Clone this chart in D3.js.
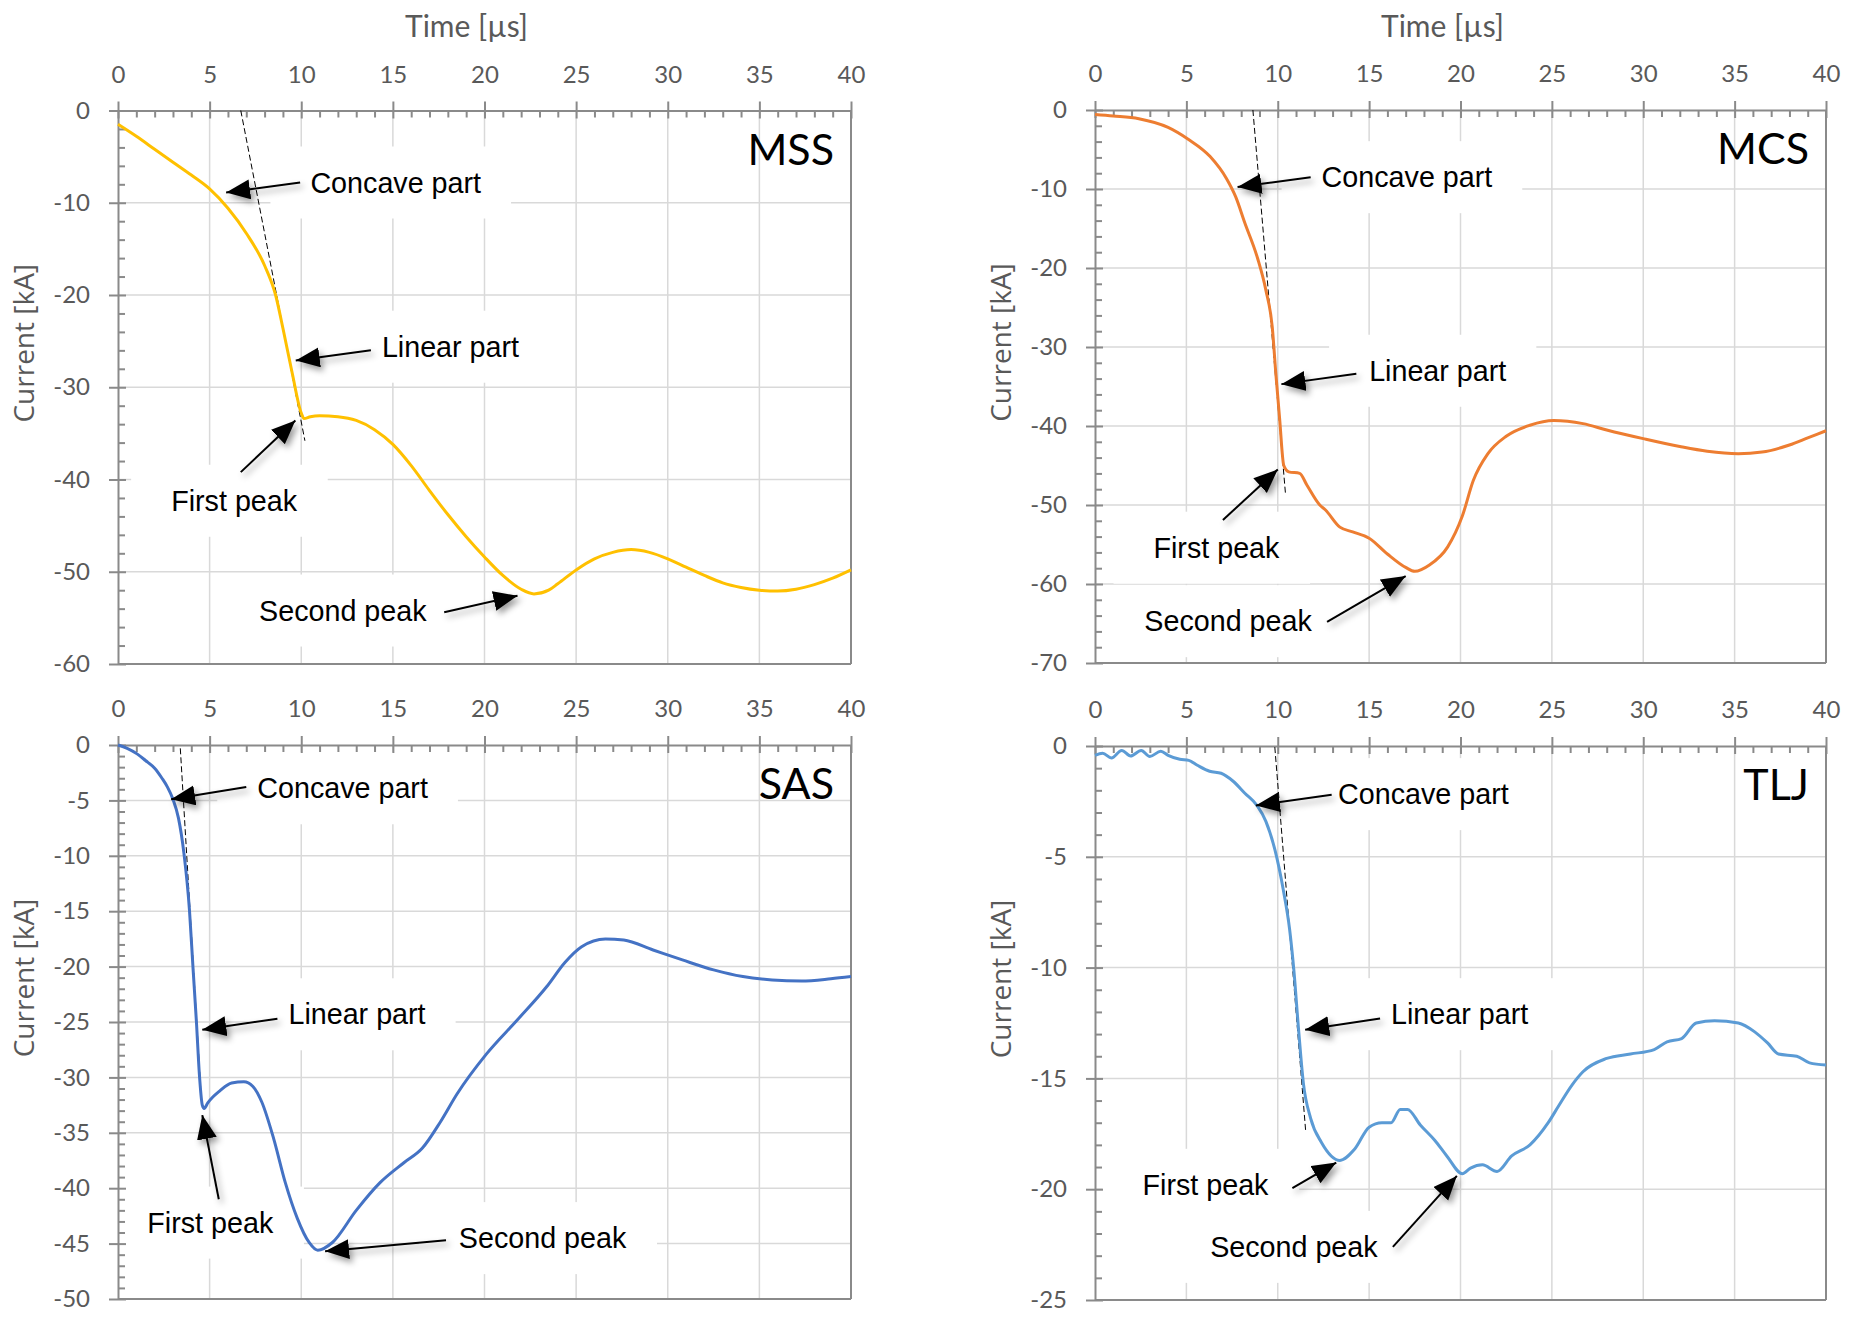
<!DOCTYPE html>
<html>
<head>
<meta charset="utf-8">
<script src="https://cdn.jsdelivr.net/npm/d3@7"></script>
<style>
  body { margin: 0; background: #fff; }
  svg { display: block; }
</style>
</head>
<body>
<svg id="chart"></svg>
<script>
// ---- data ----
const timeTicks = [0, 5, 10, 15, 20, 25, 30, 35, 40];

const mssYTicks = [0, -10, -20, -30, -40, -50, -60];
const mcsYTicks = [0, -10, -20, -30, -40, -50, -60, -70];
const sasYTicks = [0, -5, -10, -15, -20, -25, -30, -35, -40, -45, -50];
const tljYTicks = [0, -5, -10, -15, -20, -25];

// [time µs, current kA]
const mssCurve = [[0,-1.5],[1,-2.8],[2,-4.2],[3,-5.6],[4,-7.0],[5,-8.5],[6,-10.6],[7,-13.3],[8,-16.8],
  [8.6,-20],[9,-23.6],[9.5,-28.4],[10,-32.8],[10.15,-33.4],[10.5,-33.2],[11,-33.1],[12,-33.2],[13,-33.6],
  [14,-34.6],[15,-36.2],[16,-38.5],[17,-41.2],[18,-43.8],[19,-46.2],[20,-48.4],[21,-50.4],[22,-51.9],
  [22.7,-52.4],[23.5,-52],[24,-51.3],[25,-49.8],[26,-48.6],[27,-47.9],[28,-47.6],[29,-47.9],[30,-48.6],
  [31,-49.5],[32,-50.4],[33,-51.2],[34,-51.7],[35,-52.0],[36,-52.1],[37,-51.9],[38,-51.4],[39,-50.7],[40,-49.8]];

const mcsCurve = [[0,-0.56],[1,-0.75],[2.4,-1.1],[4,-2.2],[5.1,-3.7],[6.3,-5.9],[7.2,-8.7],[7.7,-11],
  [8.2,-14.3],[8.9,-18.8],[9.35,-22.8],[9.7,-27.5],[9.9,-33.5],[10.1,-39],[10.33,-45],[10.6,-45.8],
  [11.2,-46.0],[11.6,-47.5],[12.3,-50],[12.6,-50.6],[13.4,-52.8],[14.1,-53.4],[15,-54.2],[16,-56.2],
  [17,-57.9],[17.5,-58.4],[18.3,-57.6],[19.3,-55.3],[20.1,-51.4],[20.7,-46.9],[21.5,-43.5],[22.5,-41.3],
  [23.8,-39.9],[25.1,-39.3],[26.7,-39.7],[28,-40.5],[30,-41.6],[32,-42.6],[33.5,-43.2],[35.2,-43.5],
  [36.5,-43.3],[38,-42.4],[39,-41.5],[40,-40.6]];

const sasCurve = [[0,0],[0.5,-0.3],[1.04,-0.8],[1.5,-1.4],[2.0,-2.1],[2.4,-3.0],[2.7,-3.8],[3.0,-4.9],
  [3.3,-6.6],[3.6,-9.8],[3.9,-14.9],[4.1,-20.3],[4.28,-25],[4.44,-29.7],[4.6,-32.5],[4.7,-32.8],[4.9,-32.3],
  [5.57,-31.2],[6.2,-30.5],[6.87,-30.4],[7.35,-30.8],[7.84,-32.2],[8.49,-35.5],[9.13,-39.5],[9.78,-42.7],
  [10.43,-44.9],[10.9,-45.6],[11.7,-44.9],[13.0,-42],[14.3,-39.5],[15.6,-37.7],[16.6,-36.4],[17.6,-34],
  [18.5,-31.5],[20.1,-27.9],[21.8,-24.8],[23.4,-21.8],[24.4,-19.6],[25.3,-18.2],[26.6,-17.5],[27.6,-17.6],
  [29.2,-18.5],[30.8,-19.4],[32.5,-20.3],[34.1,-20.9],[35.7,-21.2],[37.3,-21.3],[38.9,-21.1],[40,-20.9]];

const tljCurve = [[0,-0.42],[0.42,-0.33],[0.9,-0.54],[1.46,-0.2],[1.95,-0.45],[2.53,-0.2],[3.0,-0.47],
  [3.6,-0.24],[4.0,-0.42],[4.64,-0.6],[5.13,-0.65],[5.6,-0.87],[6.27,-1.14],[6.9,-1.23],[7.56,-1.59],
  [8.2,-2.13],[8.86,-2.68],[9.35,-3.4],[9.84,-4.67],[10.3,-6.48],[10.65,-8.28],[10.88,-10.1],[11.14,-12.8],
  [11.4,-15.2],[11.8,-16.8],[12.4,-17.9],[13.4,-18.7],[14.2,-18.2],[15.0,-17.2],[15.7,-17.0],[16.2,-17.0],
  [16.7,-16.4],[17.1,-16.4],[17.8,-17.1],[18.6,-17.8],[19.25,-18.5],[20.1,-19.3],[20.55,-19.05],[21.2,-18.9],
  [22.0,-19.2],[22.8,-18.5],[23.8,-18.0],[24.8,-17.0],[25.4,-16.2],[26.1,-15.3],[26.7,-14.7],[28.0,-14.1],
  [29.3,-13.9],[30.6,-13.7],[31.3,-13.35],[32.1,-13.2],[32.9,-12.5],[33.9,-12.4],[35.2,-12.5],[36.1,-12.9],
  [36.8,-13.4],[37.4,-13.9],[38.4,-14.0],[39.1,-14.3],[40,-14.4]];

// dashed tangent lines (two end points each)
const mssTangent = [[6.7, 0], [10.2, -35.8]];
const mcsTangent = [[8.64, 0], [10.42, -48.5]];
const sasTangent = [[3.4, -0.3], [4.55, -32]];
const tljTangent = [[9.84, -0.05], [11.53, -17.4]];

// annotations: text, text-left t, text-centre I, arrow tail t, I, arrow tip t, I
const mssNotes = [
  ["Concave part", 10.5, -7.8, 9.94, -7.8, 5.9, -8.9],
  ["Linear part", 14.4, -25.6, 13.8, -26, 9.7, -27.1],
  ["First peak", 2.9, -42.3, 6.7, -39.2, 9.68, -33.6],
  ["Second peak", 7.7, -54.2, 17.8, -54.4, 21.8, -52.6]
];
const mcsNotes = [
  ["Concave part", 12.4, -8.5, 11.8, -8.5, 7.8, -9.75],
  ["Linear part", 15.0, -33, 14.3, -33.4, 10.2, -34.7],
  ["First peak", 3.2, -55.4, 7.0, -51.9, 10.0, -45.5],
  ["Second peak", 2.7, -64.7, 12.7, -64.8, 17.0, -59]
];
const sasNotes = [
  ["Concave part", 7.6, -3.9, 7.0, -3.8, 2.9, -4.9],
  ["Linear part", 9.3, -24.3, 8.7, -24.7, 4.6, -25.7],
  ["First peak", 1.6, -43.1, 5.5, -41, 4.6, -33.4],
  ["Second peak", 18.6, -44.5, 17.9, -44.7, 11.3, -45.7]
];
const tljNotes = [
  ["Concave part", 13.3, -2.17, 12.95, -2.2, 8.8, -2.68],
  ["Linear part", 16.2, -12.1, 15.6, -12.3, 11.5, -12.8],
  ["First peak", 2.6, -19.8, 10.8, -19.95, 13.2, -18.8],
  ["Second peak", 6.3, -22.6, 16.3, -22.6, 19.8, -19.4]
];

// ---- styling ----
const AXIS = '#8a8a8a';
const GRID = '#d9d9d9';
const LABEL = '#595959';
const TICK_FONT = 'Lato, "Open Sans", sans-serif';
const NOTE_FONT = '"Liberation Sans", Arial, sans-serif';

const panels = [
  { name: "MSS", color: "#FFC000", curve: mssCurve, tangent: mssTangent, notes: mssNotes,
    yTicks: mssYTicks, yMinorStep: 2, left: 118, right: 851, top: 110.5, bottom: 664, timeTitle: true },
  { name: "MCS", color: "#ED7D31", curve: mcsCurve, tangent: mcsTangent, notes: mcsNotes,
    yTicks: mcsYTicks, yMinorStep: 2, left: 1095, right: 1826, top: 110, bottom: 663, timeTitle: true },
  { name: "SAS", color: "#4472C4", curve: sasCurve, tangent: sasTangent, notes: sasNotes,
    yTicks: sasYTicks, yMinorStep: 1, left: 118, right: 851, top: 745, bottom: 1299, timeTitle: false },
  { name: "TLJ", color: "#5B9BD5", curve: tljCurve, tangent: tljTangent, notes: tljNotes,
    yTicks: tljYTicks, yMinorStep: 1, left: 1095, right: 1826, top: 746, bottom: 1300, timeTitle: false }
];

const svg = d3.select("#chart").attr("width", 1861).attr("height", 1317);

const defs = svg.append("defs");
defs.append("marker")
  .attr("id", "arrowhead")
  .attr("markerUnits", "userSpaceOnUse")
  .attr("markerWidth", 26).attr("markerHeight", 22)
  .attr("refX", 24).attr("refY", 10)
  .attr("orient", "auto")
  .append("path").attr("d", "M0,0L24,10L0,20Z").attr("fill", "#000");

defs.append("filter")
  .attr("id", "shadow")
  .attr("x", "-50%").attr("y", "-50%").attr("width", "200%").attr("height", "200%")
  .append("feDropShadow")
  .attr("dx", 3).attr("dy", 4).attr("stdDeviation", 3)
  .attr("flood-color", "#000").attr("flood-opacity", 0.4);

function styleAxis(sel) {
  sel.select(".domain").attr("stroke", AXIS).attr("stroke-width", 2);
  sel.selectAll(".tick line").attr("stroke", AXIS).attr("stroke-width", 2);
  sel.selectAll(".tick text")
    .attr("fill", LABEL)
    .style("font-family", TICK_FONT)
    .style("font-size", "24px");
}

function drawPanel(p) {
  const x = d3.scaleLinear().domain([0, 40]).range([p.left, p.right]);
  const yMin = p.yTicks[p.yTicks.length - 1];
  const y = d3.scaleLinear().domain([0, yMin]).range([p.top, p.bottom]);

  const g = svg.append("g").attr("class", "panel " + p.name);

  // gridlines
  g.append("g")
    .selectAll("line")
    .data(timeTicks.filter(d => d > 0 && d < 40))
    .join("line")
    .attr("x1", d => x(d)).attr("x2", d => x(d))
    .attr("y1", p.top).attr("y2", p.bottom)
    .attr("stroke", GRID).attr("stroke-width", 1.5);

  g.append("g")
    .selectAll("line")
    .data(p.yTicks.filter(d => d < 0 && d > yMin))
    .join("line")
    .attr("x1", p.left).attr("x2", p.right)
    .attr("y1", d => y(d)).attr("y2", d => y(d))
    .attr("stroke", GRID).attr("stroke-width", 1.5);

  // white text boxes go here (filled once the labels are measured)
  const boxLayer = g.append("g");

  // right and bottom frame
  g.append("line")
    .attr("x1", p.right).attr("x2", p.right).attr("y1", p.top).attr("y2", p.bottom)
    .attr("stroke", AXIS).attr("stroke-width", 2);
  g.append("line")
    .attr("x1", p.left).attr("x2", p.right).attr("y1", p.bottom).attr("y2", p.bottom)
    .attr("stroke", AXIS).attr("stroke-width", 2);

  // minor ticks (inside)
  const xMinor = d3.range(0, 40.01, 1).filter(d => d % 5 !== 0);
  g.append("g")
    .attr("transform", `translate(0,${p.top})`)
    .call(d3.axisTop(x).tickValues(xMinor).tickSize(-7).tickFormat(""))
    .call(s => s.select(".domain").remove())
    .call(s => s.selectAll(".tick line").attr("stroke", AXIS).attr("stroke-width", 2));

  const yMinor = d3.range(0, yMin - 0.01, -p.yMinorStep).filter(d => !p.yTicks.includes(d));
  g.append("g")
    .attr("transform", `translate(${p.left},0)`)
    .call(d3.axisLeft(y).tickValues(yMinor).tickSize(-7).tickFormat(""))
    .call(s => s.select(".domain").remove())
    .call(s => s.selectAll(".tick line").attr("stroke", AXIS).attr("stroke-width", 2));

  // major axes (time on top)
  g.append("g")
    .attr("transform", `translate(0,${p.top})`)
    .call(d3.axisTop(x).tickValues(timeTicks).tickSize(9).tickSizeOuter(0).tickPadding(19)
      .tickFormat(d => String(d)))
    .call(styleAxis)
    .call(s => s.selectAll(".tick line").attr("y1", 8));

  g.append("g")
    .attr("transform", `translate(${p.left},0)`)
    .call(d3.axisLeft(y).tickValues(p.yTicks).tickSize(9).tickSizeOuter(0).tickPadding(19)
      .tickFormat(d => String(d)))
    .call(styleAxis)
    .call(s => s.selectAll(".tick line").attr("x1", 8));

  // axis titles
  if (p.timeTitle) {
    g.append("text")
      .attr("x", (p.left + p.right) / 2 - 18)
      .attr("y", 37)
      .attr("text-anchor", "middle")
      .attr("fill", LABEL)
      .style("font-family", TICK_FONT)
      .style("font-size", "30px")
      .text("Time [µs]");
  }
  const cy = (p.top + p.bottom) / 2 - 44;
  g.append("text")
    .attr("transform", `translate(${p.left - 92},${cy}) rotate(-90)`)
    .attr("text-anchor", "middle")
    .attr("dy", "0.3em")
    .attr("fill", LABEL)
    .style("font-family", '"Open Sans", sans-serif')
    .style("font-size", "28px")
    .text("Current [kA]");

  // tangent (dashed)
  g.append("path")
    .datum(p.tangent)
    .attr("d", d3.line().x(d => x(d[0])).y(d => y(d[1])))
    .attr("fill", "none")
    .attr("stroke", "#000")
    .attr("stroke-width", 1)
    .attr("stroke-dasharray", "6,3");

  // series
  g.append("path")
    .datum(p.curve)
    .attr("d", d3.line().x(d => x(d[0])).y(d => y(d[1])).curve(d3.curveMonotoneX))
    .attr("fill", "none")
    .attr("stroke", p.color)
    .attr("stroke-width", 3)
    .attr("stroke-linejoin", "round");

  // panel name
  g.append("text")
    .attr("x", p.right - 17)
    .attr("y", p.top + 54)
    .attr("text-anchor", "end")
    .attr("fill", "#000")
    .style("font-family", TICK_FONT)
    .style("font-size", "43px")
    .text(p.name);

  // annotations
  const noteText = g.append("g")
    .selectAll("text")
    .data(p.notes)
    .join("text")
    .attr("x", d => x(d[1]))
    .attr("y", d => y(d[2]))
    .attr("dy", "0.35em")
    .attr("fill", "#000")
    .style("font-family", NOTE_FONT)
    .style("font-size", "28.7px")
    .text(d => d[0]);

  noteText.each(function() {
    const b = this.getBBox();
    boxLayer.append("rect")
      .attr("x", b.x - 40).attr("y", b.y - 20)
      .attr("width", b.width + 70).attr("height", b.height + 40)
      .attr("fill", "#fff");
  });

  g.append("g")
    .attr("filter", "url(#shadow)")
    .selectAll("line")
    .data(p.notes)
    .join("line")
    .attr("x1", d => x(d[3])).attr("y1", d => y(d[4]))
    .attr("x2", d => x(d[5])).attr("y2", d => y(d[6]))
    .attr("stroke", "#000")
    .attr("stroke-width", 2)
    .attr("marker-end", "url(#arrowhead)");
}

panels.forEach(drawPanel);
</script>
</body>
</html>
